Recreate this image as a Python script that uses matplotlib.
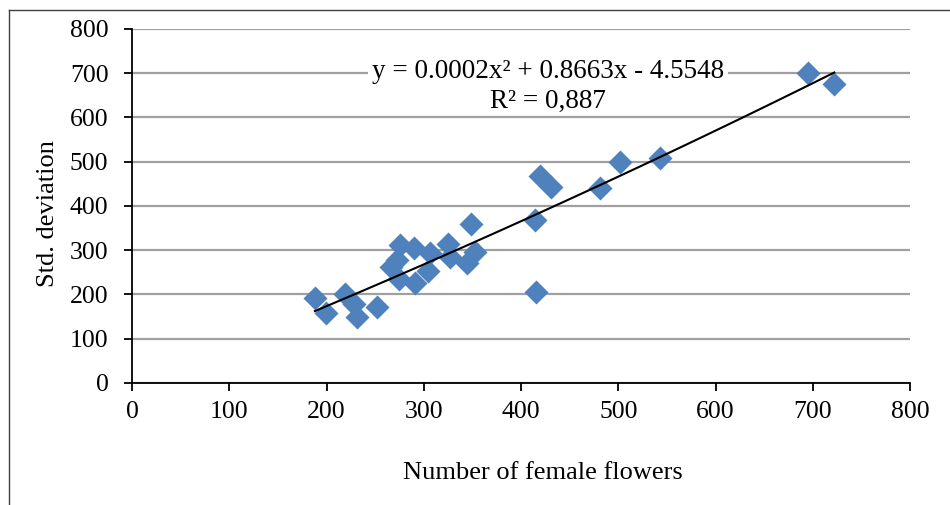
import numpy as np
import matplotlib.pyplot as plt
from matplotlib.lines import Line2D

# data
flowers = [188, 199, 219, 228, 231, 252, 266, 272, 274, 276, 290, 291, 304, 306,
           325, 327, 344, 348, 353, 414, 415, 419, 431, 481, 502, 543, 695, 722]
std_dev = [191, 159, 201, 179, 150, 171, 263, 278, 236, 312, 306, 226, 252, 293,
           314, 285, 272, 360, 297, 368, 206, 468, 442, 440, 499, 508, 701, 675]
equation = "y = 0.0002x² + 0.8663x - 4.5548"
r_squared = "R² = 0,887"

plt.rcParams['font.family'] = ['Liberation Serif', 'DejaVu Serif']

fig = plt.figure(figsize=(9.5, 5.05), dpi=100)
ax = fig.add_axes([0.139, 0.2416, 0.819, 0.701])

# chart frame (only left and top edges visible)
fig.add_artist(Line2D([0.009, 0.009], [0, 0.980], color='#404040', lw=1))
fig.add_artist(Line2D([0.009, 1.0], [0.980, 0.980], color='#404040', lw=1))

ax.scatter(flowers, std_dev, marker='D', s=150, color='#4f81bd', zorder=3,
           linewidths=0)

# 2nd order polynomial trend line
coef = np.polyfit(flowers, std_dev, 2)
xs = np.linspace(min(flowers), max(flowers), 100)
ax.plot(xs, np.polyval(coef, xs), color='black', lw=1.5, zorder=4)

ax.text(428, 703, equation, ha='center', va='center', fontsize=19.5,
        bbox=dict(facecolor='white', edgecolor='none', pad=3), zorder=5)
ax.text(428, 636, r_squared, ha='center', va='center', fontsize=19.5, zorder=5)

ax.set_xlim(0, 800)
ax.set_ylim(0, 800)
ax.set_xticks(range(0, 801, 100))
ax.set_yticks(range(0, 801, 100))
ax.grid(axis='y', color='#a0a0a0', lw=1.6)
ax.set_axisbelow(True)
for s in ['top', 'right']:
    ax.spines[s].set_visible(False)
for s in ['left', 'bottom']:
    ax.spines[s].set_linewidth(1.3)
ax.tick_params(direction='out', length=6, width=1.3, labelsize=18.5)
ax.tick_params(axis='x', pad=7)
ax.tick_params(axis='y', pad=11)

ax.set_xlabel("Number of female flowers", fontsize=19, labelpad=28)
ax.set_ylabel("Std. deviation", fontsize=19, labelpad=8)
ax.xaxis.label.set_x(0.528)
ax.yaxis.label.set_y(0.48)

fig.savefig("out.png", dpi=100)
